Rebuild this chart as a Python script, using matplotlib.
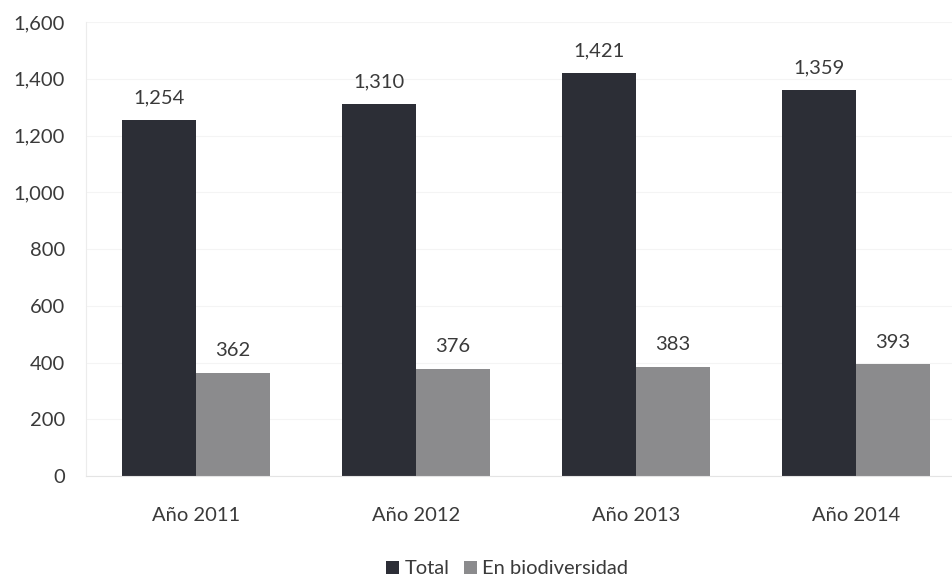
import matplotlib
matplotlib.use("Agg")
import matplotlib.pyplot as plt
import numpy as np

plt.rcParams['font.family'] = ['Lato', 'DejaVu Sans']

categories = ["Año 2011", "Año 2012", "Año 2013", "Año 2014"]
total = [1254, 1310, 1421, 1359]
biodiv = [362, 376, 383, 393]
series_names = ["Total", "En biodiversidad"]
yticks = [0, 200, 400, 600, 800, 1000, 1200, 1400, 1600]

c_dark = "#2c2e36"
c_gray = "#8b8b8d"
txt = "#3a3a3a"
fs = 14.5

fig = plt.figure(figsize=(9.53, 5.84), dpi=100)
ax = fig.add_axes([86/953, 1 - 476/584, 880/953, (476-22)/584])

x = np.arange(len(categories))
w = 0.336
b1 = ax.bar(x - w/2, total, w, color=c_dark, label=series_names[0])
b2 = ax.bar(x + w/2, biodiv, w, color=c_gray, label=series_names[1])

for bars in (b1, b2):
    for r in bars:
        ax.annotate(f"{int(r.get_height()):,}", (r.get_x() + r.get_width()/2, r.get_height()),
                    xytext=(0, 10), textcoords="offset points", ha="center", va="bottom",
                    fontsize=fs, color=txt)

ax.set_xlim(-0.5, 3.5)
ax.set_ylim(0, 1600)
ax.set_yticks(yticks)
ax.set_yticklabels([f"{v:,}" for v in yticks])
ax.set_xticks(x)
ax.set_xticklabels(categories)
ax.tick_params(axis='y', length=0, pad=15, labelsize=fs, labelcolor=txt)
ax.tick_params(axis='x', length=0, pad=22, labelsize=fs, labelcolor=txt)
ax.yaxis.grid(True, color="#f4f4f4", linewidth=0.8)
ax.set_axisbelow(True)
for s in ["top", "right"]:
    ax.spines[s].set_visible(False)
ax.spines["left"].set_color("#ececec")
ax.spines["bottom"].set_color("#e4e4e4")

fig.legend(handles=[b1, b2], labels=series_names, loc="center", bbox_to_anchor=(507/953, 1 - 569/584),
           ncol=2, frameon=False, fontsize=fs, handlelength=0.65, handleheight=0.65,
           handletextpad=0.25, columnspacing=0.7, labelcolor=txt)

fig.savefig("out.png", dpi=100)
